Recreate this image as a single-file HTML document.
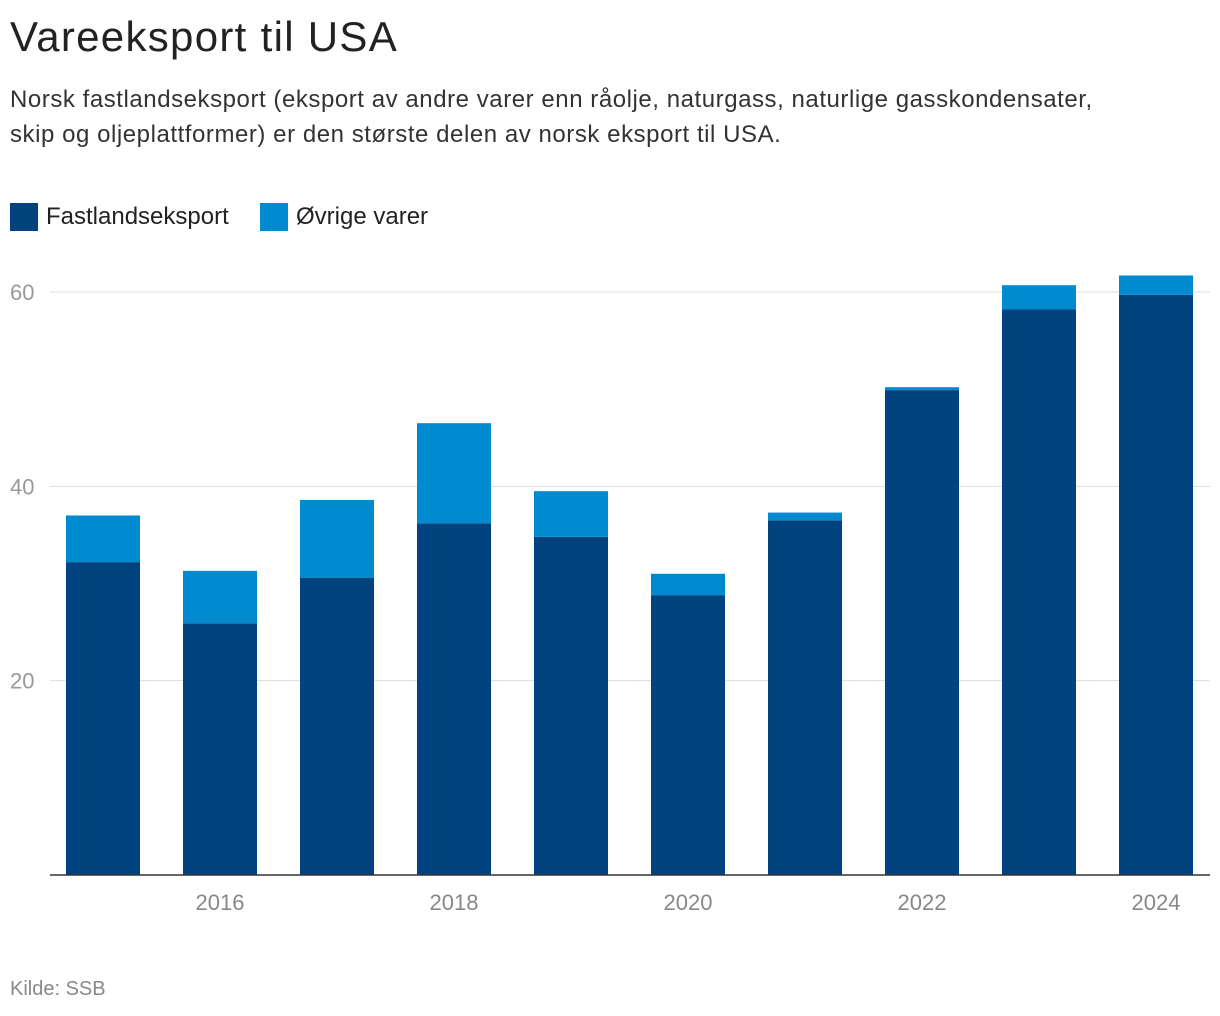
<!DOCTYPE html>
<html><head><meta charset="utf-8"><style>
body{margin:0;background:#fff;width:1220px;height:1016px;overflow:hidden;font-family:"Liberation Sans",sans-serif;color:#222}
#title{position:absolute;left:10px;top:13px;font-size:42px;margin:0;font-weight:normal;letter-spacing:1.3px}
#sub{position:absolute;left:10px;top:82px;font-size:24px;line-height:35px;width:1215px;color:#333;letter-spacing:0.55px;white-space:nowrap}
.leg{position:absolute;top:203px;font-size:24px;display:flex;align-items:center}
.sw{width:28px;height:28px;margin-right:8px}
#src{position:absolute;left:10px;top:978px;font-size:20px;color:#888}
svg{position:absolute;left:0;top:0}
</style></head><body>
<h1 id="title">Vareeksport til USA</h1>
<div id="sub">Norsk fastlandseksport (eksport av andre varer enn råolje, naturgass, naturlige gasskondensater,<br>skip og oljeplattformer) er den største delen av norsk eksport til USA.</div>
<div class="leg" style="left:10px"><div class="sw" style="background:#00437f"></div>Fastlandseksport</div>
<div class="leg" style="left:260px"><div class="sw" style="background:#008bd0"></div>Øvrige varer</div>
<svg id="chart" width="1220" height="1016"></svg>
<div id="src">Kilde: SSB</div>
<script>
const years=[2015,2016,2017,2018,2019,2020,2021,2022,2023,2024];
const fastland=[32.2,25.9,30.6,36.2,34.8,28.8,36.5,49.9,58.2,59.7];
const totals=[37.0,31.3,38.6,46.5,39.5,31.0,37.3,50.2,60.7,61.7];
const yTicks=[20,40,60];
const xTicks=[2016,2018,2020,2022,2024];
const svg=document.getElementById('chart');
const NS='http://www.w3.org/2000/svg';
const y=v=>875-v*9.717;
const x=yr=>103+(yr-2015)*117;
function mk(t,a){const e=document.createElementNS(NS,t);for(const k in a)e.setAttribute(k,a[k]);svg.appendChild(e);return e;}
yTicks.forEach(t=>{
 const l=mk('line',{x1:50,x2:1210,y1:y(t),y2:y(t),stroke:'#ddd','stroke-width':1});
 
 
 const tx=mk('text',{x:10,y:y(t)+8,'font-size':22,fill:'#999','font-family':'Liberation Sans, sans-serif'});
 tx.textContent=t;
 
 
});
years.forEach((yr,i)=>{
 const b=mk('rect',{x:x(yr)-37,width:74,y:y(fastland[i]),height:y(0)-y(fastland[i]),fill:'#00437f'});
 
 
 const o=mk('rect',{x:x(yr)-37,width:74,y:y(totals[i]),height:y(fastland[i])-y(totals[i]),fill:'#008bd0'});
 
 
});
const ax=mk('line',{x1:50,x2:1210,y1:875,y2:875,stroke:'#333','stroke-width':1.5});


xTicks.forEach(t=>{
 const tx=mk('text',{x:x(t),y:910,'font-size':22,fill:'#888','text-anchor':'middle','font-family':'Liberation Sans, sans-serif'});
 tx.textContent=t;
 
 
});
</script>
</body></html>
